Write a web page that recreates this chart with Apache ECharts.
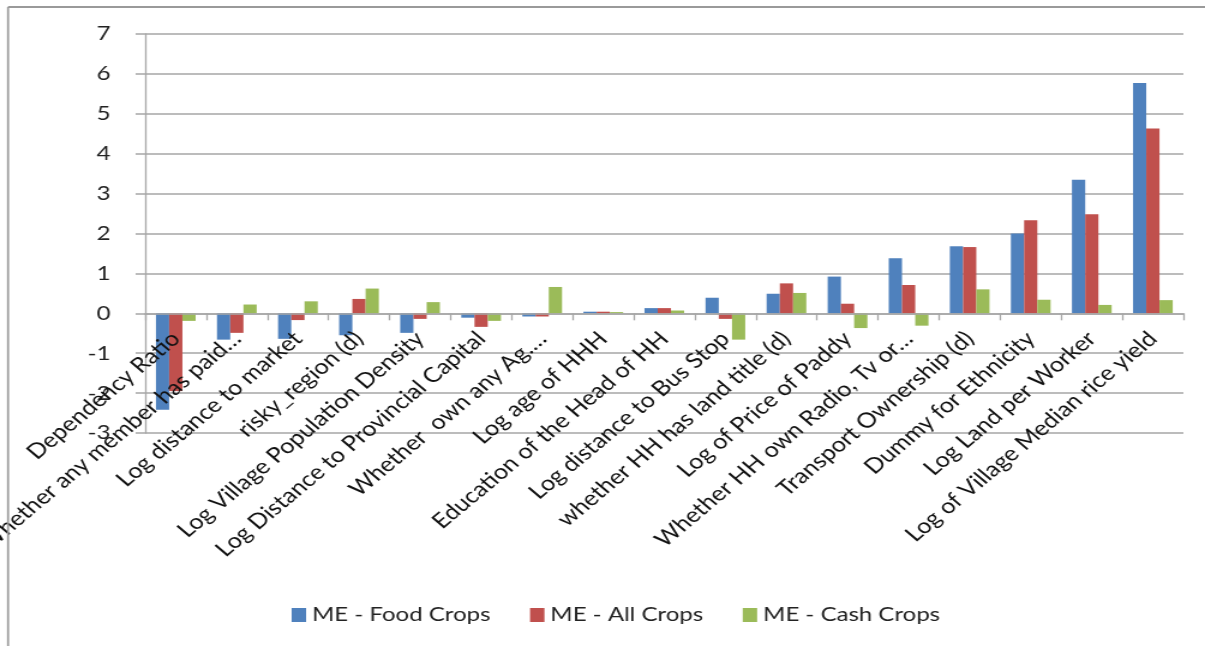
<!DOCTYPE html>
<html>
<head>
<meta charset="utf-8">
<script src="https://cdn.jsdelivr.net/npm/echarts@6/dist/echarts.min.js"></script>
<style>
  html, body { margin: 0; padding: 0; background: #ffffff; overflow: hidden; }
  /* the chart is laid out on a narrower canvas and widened 1.2x, like a stretched figure */
  #chart { width: 1004px; height: 646px; transform: scaleX(1.2002); transform-origin: 0 0; }
</style>
</head>
<body>
<div id="chart"></div>
<script>
// Marginal effects of household and village characteristics
const categories = [
  'Dependency Ratio',
  'Whether any member has paid\u2026',
  'Log distance to market',
  'risky_region (d)',
  'Log Village Population Density',
  'Log Distance to Provincial Capital',
  'Whether  own any Ag.\u2026',
  'Log age of HHH',
  'Education of the Head of HH',
  'Log distance to Bus Stop',
  'whether HH has land title (d)',
  'Log of Price of Paddy',
  'Whether HH own Radio, Tv or\u2026',
  'Transport Ownership (d)',
  'Dummy for Ethnicity',
  'Log Land per Worker',
  'Log of Village Median rice yield'
];

const foodCrops = [-2.42, -0.66, -0.64, -0.55, -0.49, -0.11, -0.08, 0.04, 0.13, 0.39, 0.49, 0.92, 1.38, 1.68, 2.00, 3.35, 5.77];
const allCrops  = [-1.95, -0.49, -0.17, 0.36, -0.14, -0.34, -0.08, 0.04, 0.13, -0.14, 0.75, 0.24, 0.71, 1.66, 2.33, 2.48, 4.63];
const cashCrops = [-0.19, 0.22, 0.30, 0.62, 0.28, -0.19, 0.66, 0.03, 0.07, -0.66, 0.51, -0.37, -0.31, 0.60, 0.34, 0.21, 0.33];

const seriesNames = ['ME - Food Crops', 'ME - All Crops', 'ME - Cash Crops'];
const yMin = -3, yMax = 7, yStep = 1;

const FONT = 'Lato, "Open Sans", sans-serif';
const GRID_COLOR = '#a6a6a6';

// plot box (in the un-widened layout)
const GRID_TOP = 34, GRID_BOTTOM = 213, GRID_LEFT = 121, GRID_RIGHT = 18;
const chartH = 646;
const plotH = chartH - GRID_TOP - GRID_BOTTOM;
// the category axis sits on the zero line, so lift it from the plot bottom
const zeroShift = plotH * (0 - yMin) / (yMax - yMin);

const chart = echarts.init(document.getElementById('chart'), null, { renderer: 'canvas' });

chart.setOption({
  animation: false,
  backgroundColor: '#ffffff',
  color: ['#4F81BD', '#C0504D', '#9BBB59'],
  textStyle: { fontFamily: FONT },
  grid: {
    left: GRID_LEFT, right: GRID_RIGHT, top: GRID_TOP, bottom: GRID_BOTTOM,
    containLabel: false, outerBoundsMode: 'none'
  },
  legend: {
    data: seriesNames,
    top: 600,
    left: 238,
    itemWidth: 12,
    itemHeight: 14,
    itemGap: 33,
    icon: 'rect',
    textStyle: { fontSize: 20, color: '#222', fontFamily: FONT }
  },
  xAxis: {
    type: 'category',
    data: categories,
    offset: -zeroShift,
    z: 5,
    axisLine: { onZero: false, lineStyle: { color: GRID_COLOR, width: 1.5 } },
    axisTick: { show: true, length: 7, lineStyle: { color: GRID_COLOR, width: 1.3 } },
    axisLabel: {
      interval: 0,
      rotate: 45,
      margin: 22,
      fontSize: 21,
      color: '#111',
      fontFamily: FONT
    }
  },
  yAxis: {
    type: 'value',
    min: yMin,
    max: yMax,
    interval: yStep,
    axisLine: { show: true, lineStyle: { color: GRID_COLOR, width: 1.3 } },
    axisTick: { show: true, length: 8, lineStyle: { color: GRID_COLOR, width: 1.5 } },
    splitLine: { show: true, lineStyle: { color: GRID_COLOR, width: 1.5 } },
    axisLabel: { fontSize: 20, color: '#222', margin: 29, fontFamily: FONT }
  },
  series: [
    { name: seriesNames[0], type: 'bar', data: foodCrops, barGap: '0%', barCategoryGap: '35%' },
    { name: seriesNames[1], type: 'bar', data: allCrops, barGap: '0%', barCategoryGap: '35%' },
    { name: seriesNames[2], type: 'bar', data: cashCrops, barGap: '0%', barCategoryGap: '35%' }
  ],
  graphic: [
    { type: 'line', shape: { x1: 6.7, y1: 7, x2: 1004, y2: 7 }, style: { stroke: '#9a9a9a', lineWidth: 2 }, z: 100 },
    { type: 'line', shape: { x1: 6.7, y1: 7, x2: 6.7, y2: 646 }, style: { stroke: '#9a9a9a', lineWidth: 1.7 }, z: 100 }
  ]
});
</script>
</body>
</html>
